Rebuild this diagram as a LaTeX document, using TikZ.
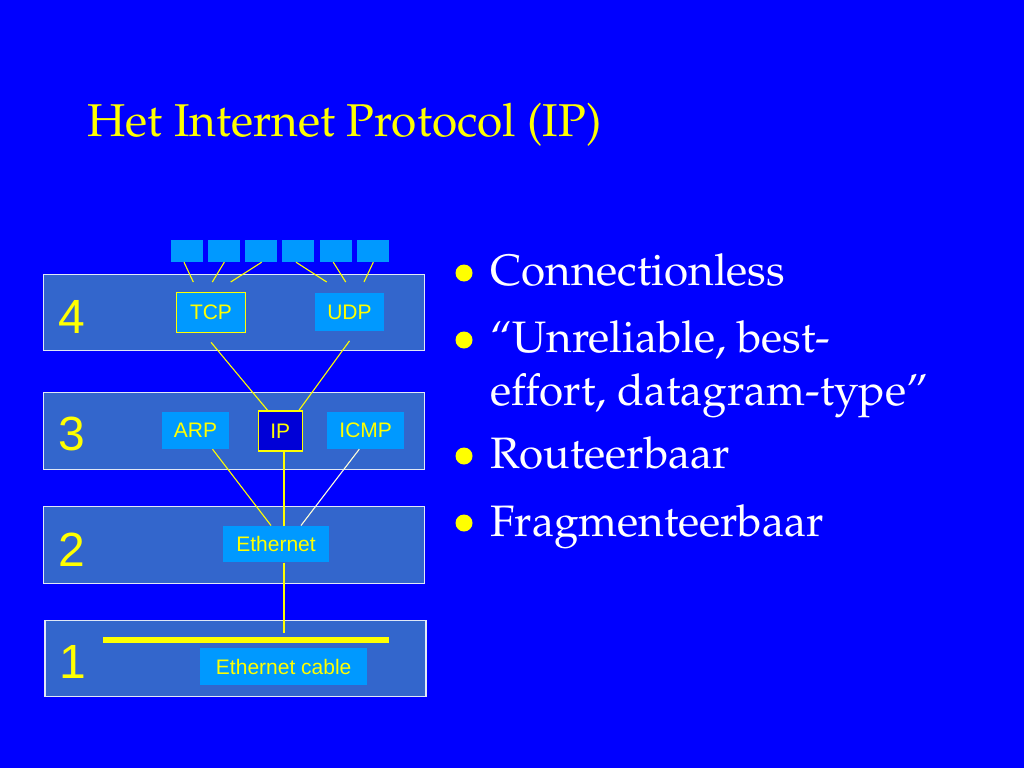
\documentclass[tikz,border=0pt]{standalone}
\usepackage[T1]{fontenc}
\usepackage{fontspec}
\setmainfont{Liberation Serif}
\setsansfont{Liberation Sans}
\newcommand\palfont{\fontencoding{T1}\fontfamily{ppl}\selectfont}
\definecolor{bg}{RGB}{0,0,255}
\definecolor{layer}{RGB}{51,102,204}
\definecolor{boxc}{RGB}{0,153,255}
\definecolor{yel}{RGB}{255,255,0}
\definecolor{ipfill}{RGB}{0,0,215}
\tikzset{
  layerbox/.style={draw=white!85!layer, line width=1.2pt, fill=layer, minimum width=381pt, minimum height=76.4pt, inner sep=0pt},
  lnum/.style={text=yel, font=\sffamily\fontsize{48}{50}\selectfont, anchor=base, inner sep=0pt},
  proto/.style={fill=boxc, text=yel, font=\sffamily\fontsize{21}{24}\selectfont, inner sep=0pt},
  protoedge/.style={proto, draw=yel, line width=1.2pt},
  port/.style={fill=boxc, minimum width=32pt, minimum height=22pt, inner sep=0pt},
  conn/.style={yel, line width=1.1pt},
  bul/.style={fill=yel},
  btext/.style={text=white, anchor=base west, inner sep=0pt, font=\palfont\fontsize{44}{50}\selectfont},
}
\begin{document}
\begin{tikzpicture}[x=1pt,y=-1pt]
\fill[bg] (0,0) rectangle (1024,768);
\useasboundingbox (0,0) rectangle (1024,768);

% title
\node[text=yel, anchor=base west, inner sep=0pt, font=\palfont\fontsize{46}{50}\selectfont] (title) at (87,136) {Het Internet Protocol (IP)};

% layers
\node[layerbox] (L4) at (233.8,312.5) {};
\node[layerbox] (L3) at (233.8,431) {};
\node[layerbox] (L2) at (233.8,545) {};
\node[layerbox] (L1) at (235.5,658.3) {};

\node[lnum] (n4) at (72,333) {4};
\node[lnum] (n3) at (72,450.5) {3};
\node[lnum] (n2) at (72,566) {2};
\node[lnum] (n1) at (73,678) {1};

% ports
\node[port] (p1) at (186.7,251) {};
\node[port] (p2) at (224,251) {};
\node[port] (p3) at (261.2,251) {};
\node[port] (p4) at (298.4,251) {};
\node[port] (p5) at (336,251) {};
\node[port] (p6) at (373,251) {};
\coordinate (e1) at (193.3,282);
\coordinate (e2) at (212.3,282);
\coordinate (e3) at (230.7,282);
\coordinate (e4) at (326.7,282);
\coordinate (e5) at (345.7,282);
\coordinate (e6) at (364,282);
\draw[conn] ([xshift=-2.7pt]p1.south) -- (e1);
\draw[conn] ([xshift=0.3pt]p2.south) -- (e2);
\draw[conn] ([xshift=0.5pt]p3.south) -- (e3);
\draw[conn] ([xshift=-2.4pt]p4.south) -- (e4);
\draw[conn] ([xshift=-2.7pt]p5.south) -- (e5);
\draw[conn] ([xshift=0.3pt]p6.south) -- (e6);

% protocol boxes
\node[protoedge, minimum width=68.6pt, minimum height=40pt] (tcp) at (211,312.7) {TCP};
\node[proto, minimum width=68.4pt, minimum height=37.4pt] (udp) at (349.5,312) {UDP};
\node[proto, minimum width=67pt, minimum height=37.3pt] (arp) at (195.5,430.3) {ARP};
\node[protoedge, fill=ipfill, minimum width=44pt, minimum height=40pt] (ip) at (280.3,431) {IP};
\node[proto, minimum width=77.3pt, minimum height=37.3pt] (icmp) at (365.7,430.3) {ICMP};
\node[proto, minimum width=106.6pt, minimum height=36.6pt] (eth) at (276,544) {Ethernet};
\node[proto, minimum width=167.3pt, minimum height=36.7pt] (cable) at (283.7,666.7) {Ethernet cable};

% connectors
\draw[conn] ([yshift=-9pt]tcp.south) -- ([xshift=10pt]ip.north west);
\draw[conn] ([yshift=-10pt]udp.south) -- ([xshift=-4pt]ip.north east);
\draw[conn] ([xshift=17pt]arp.south) -- ([xshift=-5pt]eth.north);
\draw[conn] ([xshift=3.7pt]ip.south) -- ([xshift=8pt]eth.north);
\draw[conn, white!85!yel] ([xshift=-6.4pt]icmp.south) -- ([xshift=25pt]eth.north);
\coordinate (cabL) at (103.3,640);
\coordinate (cabR) at (389,640);
\coordinate (tap) at (284,633);
\draw[yel, line width=6pt] (cabL) -- (cabR);
\draw[conn] ([xshift=8pt]eth.south) -- (tap);

% bullets
\fill[bul] (464,273) circle (8.5pt);
\fill[bul] (464,340) circle (8.5pt);
\fill[bul] (464,456) circle (8.5pt);
\fill[bul] (464,523) circle (8.5pt);
\node[btext] (b1) at (490,285.5) {Connectionless};
\node[btext] (b2a) at (490,352.7) {``Unreliable, best-};
\node[btext] (b2b) at (490,405.5) {effort, datagram-type''};
\node[btext] (b3) at (490,468) {Routeerbaar};
\node[btext] (b4) at (490,536) {Fragmenteerbaar};
\end{tikzpicture}
\end{document}
